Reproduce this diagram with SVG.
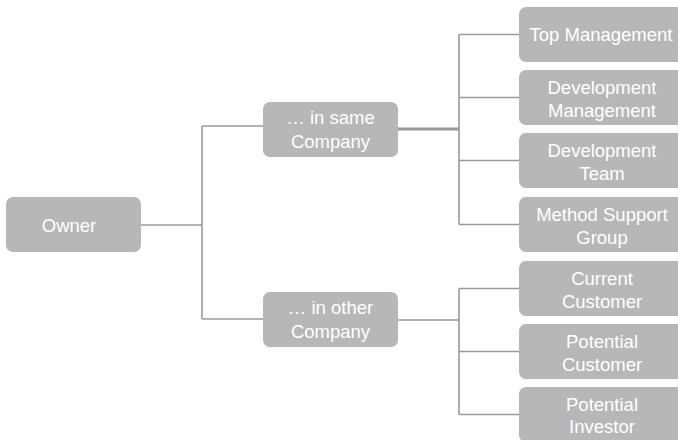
<svg xmlns="http://www.w3.org/2000/svg" width="678" height="440" viewBox="0 0 678 440">
<style>
.box{fill:#b7b7b7;}
.t{fill:#ffffff;font-family:"Liberation Sans",Arial,sans-serif;font-size:18.5px;text-anchor:middle;}
.c{fill:none;stroke:#9a9a9a;stroke-width:1.6;}
.ct{fill:none;stroke:#9a9a9a;stroke-width:3;}
</style>
<rect width="678" height="440" fill="#ffffff"/>
<g id="connectors">
<path class="c" d="M141 225H202M202 126V319M202 126H263M202 319H263"/>
<path class="ct" d="M398 129H459"/>
<path class="c" d="M459 34.5V224.5M459 34.5H519M459 97.5H519M459 160.5H519M459 224.5H519"/>
<path class="c" d="M398 320H459M459 288.5V414.5M459 288.5H519M459 351.5H519M459 414.5H519"/>
</g>
<g id="owner"><rect class="box" x="6" y="197" width="135" height="55" rx="7"/><text class="t" x="69" y="231.5">Owner</text></g>
<g id="same-company"><rect class="box" x="263" y="102" width="135" height="55" rx="7"/><text class="t" x="330.5" y="124">… in same</text><text class="t" x="330.5" y="148">Company</text></g>
<g id="other-company"><rect class="box" x="263" y="292" width="135" height="55" rx="7"/><text class="t" x="330.5" y="314">… in other</text><text class="t" x="330.5" y="338">Company</text></g>
<g id="top-management"><rect class="box" x="519" y="7" width="170" height="55" rx="7"/><text class="t" x="601" y="41">Top Management</text></g>
<g id="development-management"><rect class="box" x="519" y="70" width="170" height="55" rx="7"/><text class="t" x="602" y="93.5">Development</text><text class="t" x="602" y="116.5">Management</text></g>
<g id="development-team"><rect class="box" x="519" y="133" width="170" height="55" rx="7"/><text class="t" x="602" y="156.5">Development</text><text class="t" x="602" y="179.5">Team</text></g>
<g id="method-support-group"><rect class="box" x="519" y="197" width="170" height="55" rx="7"/><text class="t" x="602" y="220.5">Method Support</text><text class="t" x="602" y="243.5">Group</text></g>
<g id="current-customer"><rect class="box" x="519" y="261" width="170" height="55" rx="7"/><text class="t" x="602" y="284.5">Current</text><text class="t" x="602" y="307.5">Customer</text></g>
<g id="potential-customer"><rect class="box" x="519" y="324" width="170" height="55" rx="7"/><text class="t" x="602" y="347.5">Potential</text><text class="t" x="602" y="370.5">Customer</text></g>
<g id="potential-investor"><rect class="box" x="519" y="387" width="170" height="55" rx="7"/><text class="t" x="602" y="410.5">Potential</text><text class="t" x="602" y="433">Investor</text></g>
</svg>
